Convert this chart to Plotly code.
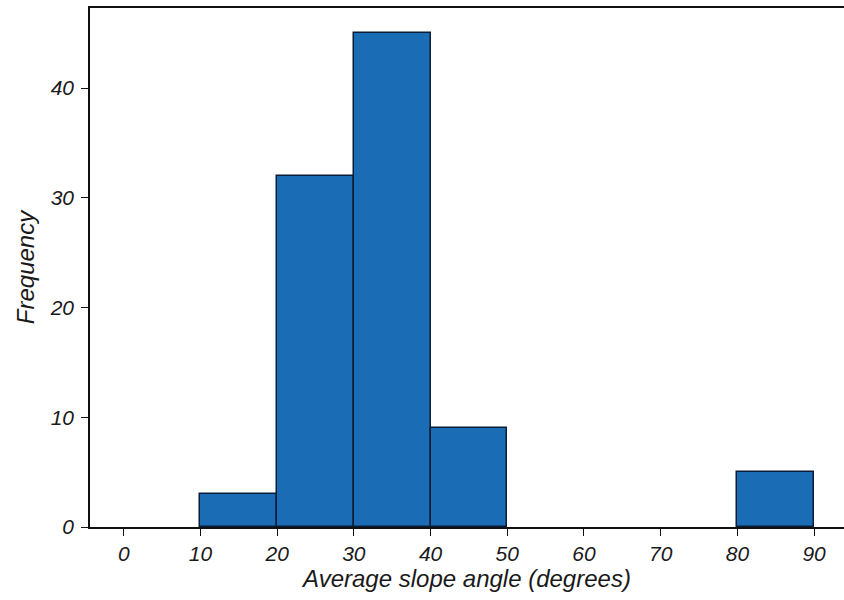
import plotly.graph_objects as go

bin_left = [10, 20, 30, 40, 80]
bin_width = 10
counts = [3, 32, 45, 9, 5]
x_ticks = [0, 10, 20, 30, 40, 50, 60, 70, 80, 90]
y_ticks = [0, 10, 20, 30, 40]

fig = go.Figure(go.Bar(
    x=[b + bin_width / 2 for b in bin_left],
    y=counts,
    width=bin_width,
    marker=dict(color="#1a6cb4", line=dict(color="#0b1d36", width=1.5)),
))

font = dict(family="Liberation Sans, Arial, sans-serif", size=21, color="#1a1a1a")
fig.update_layout(
    width=844, height=600,
    margin=dict(l=90, r=0, t=8, b=73),
    plot_bgcolor="white", paper_bgcolor="white",
    showlegend=False,
    bargap=0,
    font=font,
)
fig.update_xaxes(
    range=[-4.4, 93.9], tickvals=x_ticks, ticktext=[f"<i>{v}</i>" for v in x_ticks],
    showgrid=False, zeroline=False, showline=True, linecolor="#111", linewidth=1.5,
    mirror=True, ticks="outside", ticklen=7, tickcolor="#111",
    title=dict(text="<i>Average slope angle (degrees)</i>", standoff=5, font=dict(size=24)),
)
fig.update_yaxes(
    range=[0, 47.3], tickvals=y_ticks, ticktext=[f"<i>{v}</i>" for v in y_ticks],
    showgrid=False, zeroline=False, showline=True, linecolor="#111", linewidth=1.5,
    ticks="outside", ticklen=7, tickcolor="#111", ticklabelstandoff=3,
    title=dict(text="<i>Frequency</i>", standoff=8, font=dict(size=24)),
)
fig.write_html(
    "out.html",
    config={"displayModeBar": False},
    post_script="document.body.style.margin='0';document.body.style.overflow='hidden';",
)
